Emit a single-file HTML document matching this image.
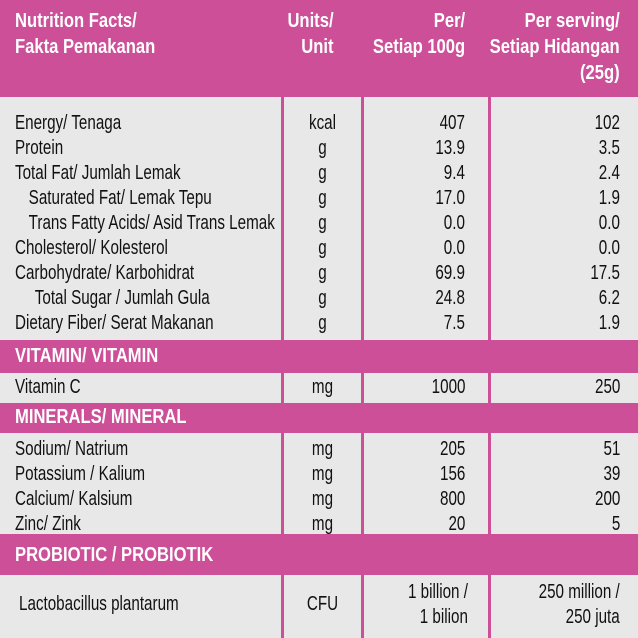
<!DOCTYPE html>
<html><head><meta charset="utf-8"><style>
body{margin:0;width:638px;height:638px;overflow:hidden;background:#cc4f98;position:relative;font-family:"Liberation Sans",sans-serif;}
.c{position:absolute;background:#e9e8e8;}
.t{position:absolute;font-size:20px;color:#111;line-height:20px;white-space:nowrap;transform:scaleX(.76);transform-origin:left top;}
.h{position:absolute;font-size:20px;color:#fff;font-weight:bold;line-height:26px;white-space:nowrap;transform:scaleX(.83);transform-origin:left top;}
.r{text-align:right;transform-origin:right top;}
.m{text-align:center;transform-origin:center top;}
</style></head><body>
<div class="h" style="left:15px;top:8px">Nutrition Facts/<br>Fakta Pemakanan</div>
<div class="h r" style="right:304px;top:8px">Units/<br>Unit</div>
<div class="h r" style="right:173px;top:8px">Per/<br>Setiap 100g</div>
<div class="h r" style="right:18px;top:8px">Per serving/<br>Setiap Hidangan<br>(25g)</div>
<div class="c" style="left:0;top:97px;width:281px;height:243px"></div>
<div class="c" style="left:284px;top:97px;width:77px;height:243px"></div>
<div class="c" style="left:364px;top:97px;width:124px;height:243px"></div>
<div class="c" style="left:491px;top:97px;width:147px;height:243px"></div>
<div class="h" style="left:15px;top:343px">VITAMIN/ VITAMIN</div>
<div class="c" style="left:0;top:373px;width:281px;height:30px"></div>
<div class="c" style="left:284px;top:373px;width:77px;height:30px"></div>
<div class="c" style="left:364px;top:373px;width:124px;height:30px"></div>
<div class="c" style="left:491px;top:373px;width:147px;height:30px"></div>
<div class="h" style="left:15px;top:404px">MINERALS/ MINERAL</div>
<div class="c" style="left:0;top:433px;width:281px;height:101px"></div>
<div class="c" style="left:284px;top:433px;width:77px;height:101px"></div>
<div class="c" style="left:364px;top:433px;width:124px;height:101px"></div>
<div class="c" style="left:491px;top:433px;width:147px;height:101px"></div>
<div class="h" style="left:15px;top:542px">PROBIOTIC / PROBIOTIK</div>
<div class="c" style="left:0;top:575px;width:281px;height:63px"></div>
<div class="c" style="left:284px;top:575px;width:77px;height:63px"></div>
<div class="c" style="left:364px;top:575px;width:124px;height:63px"></div>
<div class="c" style="left:491px;top:575px;width:147px;height:63px"></div>

<div class="t" style="left:15px;top:111px;line-height:25px">Energy/ Tenaga<br>Protein<br>Total Fat/ Jumlah Lemak<br><span style="padding-left:18px">Saturated Fat/ Lemak Tepu</span><br><span style="padding-left:18px">Trans Fatty Acids/ Asid Trans Lemak</span><br>Cholesterol/ Kolesterol<br>Carbohydrate/ Karbohidrat<br><span style="padding-left:26px">Total Sugar / Jumlah Gula</span><br>Dietary Fiber/ Serat Makanan</div>
<div class="t m" style="left:284px;width:77px;top:111px;line-height:25px">kcal<br>g<br>g<br>g<br>g<br>g<br>g<br>g<br>g</div>
<div class="t r" style="right:173px;top:111px;line-height:25px">407<br>13.9<br>9.4<br>17.0<br>0.0<br>0.0<br>69.9<br>24.8<br>7.5</div>
<div class="t r" style="right:18px;top:111px;line-height:25px">102<br>3.5<br>2.4<br>1.9<br>0.0<br>0.0<br>17.5<br>6.2<br>1.9</div>

<div class="t" style="left:15px;top:377px">Vitamin C</div>
<div class="t m" style="left:284px;width:77px;top:377px">mg</div>
<div class="t r" style="right:173px;top:377px">1000</div>
<div class="t r" style="right:18px;top:377px">250</div>

<div class="t" style="left:15px;top:437px;line-height:25px">Sodium/ Natrium<br>Potassium / Kalium<br>Calcium/ Kalsium<br>Zinc/ Zink</div>
<div class="t m" style="left:284px;width:77px;top:437px;line-height:25px">mg<br>mg<br>mg<br>mg</div>
<div class="t r" style="right:173px;top:437px;line-height:25px">205<br>156<br>800<br>20</div>
<div class="t r" style="right:18px;top:437px;line-height:25px">51<br>39<br>200<br>5</div>

<div class="t" style="left:19px;top:594px">Lactobacillus plantarum</div>
<div class="t m" style="left:284px;width:77px;top:594px">CFU</div>
<div class="t r" style="right:170px;top:580px;line-height:25px">1 billion /<br>1 bilion</div>
<div class="t r" style="right:18px;top:580px;line-height:25px">250 million /<br>250 juta</div>
</body></html>
